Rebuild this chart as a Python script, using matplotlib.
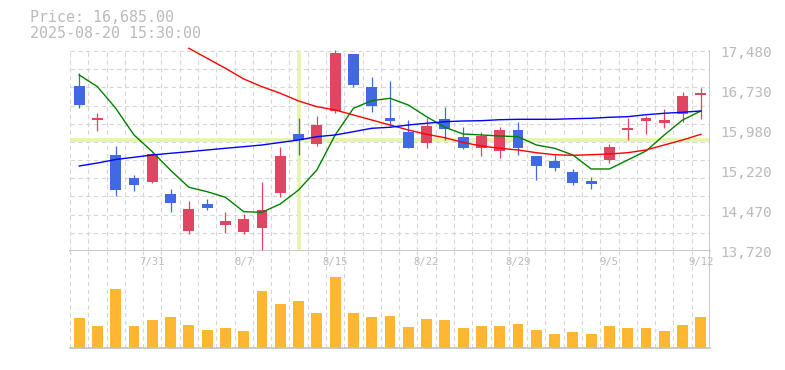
import numpy as np
import matplotlib.pyplot as plt
from matplotlib.transforms import ScaledTranslation

# --- Data ---
dates = ['7/25', '7/28', '7/29', '7/30', '7/31', '8/1', '8/4', '8/5', '8/6', '8/7',
         '8/8', '8/12', '8/13', '8/14', '8/15', '8/18', '8/19', '8/20', '8/21', '8/22',
         '8/25', '8/26', '8/27', '8/28', '8/29', '9/1', '9/2', '9/3', '9/4', '9/5',
         '9/8', '9/9', '9/10', '9/11', '9/12']
label_dates = ['7/31', '8/7', '8/15', '8/22', '8/29', '9/5', '9/12']

opens = [16820, 16185, 15525, 15100, 15025, 14790, 14100, 14605, 14215, 14085,
         14160, 14815, 15920, 15735, 16360, 17425, 16805, 16220, 15955, 15755,
         16200, 15865, 15660, 15605, 15995, 15505, 15410, 15205, 15035, 15435,
         16000, 16170, 16130, 16300, 16655]
highs = [17060, 16315, 15695, 15150, 15555, 14885, 14660, 14700, 14455, 14420,
         15015, 15680, 16220, 16260, 17500, 17430, 16990, 16915, 16185, 16220,
         16425, 16050, 15955, 16050, 16145, 15505, 15525, 15265, 15115, 15735,
         16225, 16265, 16390, 16715, 16790]
lows = [16415, 15980, 14760, 14855, 15005, 14460, 14045, 14495, 14065, 14045,
        13725, 14740, 15525, 15695, 16320, 16810, 16340, 16075, 15660, 15660,
        15810, 15645, 15510, 15475, 15530, 15060, 15230, 14965, 14890, 15380,
        15810, 15925, 16030, 16150, 16205]
closes = [16470, 16220, 14870, 14965, 15545, 14630, 14510, 14535, 14285, 14320,
          14490, 15505, 15805, 16090, 17450, 16845, 16450, 16170, 15660, 16070,
          16020, 15660, 15880, 15995, 15660, 15325, 15285, 15005, 14985, 15675,
          16030, 16220, 16185, 16635, 16685]

# volume, thousand shares
volumes = [303, 223, 593, 223, 283, 313, 233, 183, 203, 173,
           573, 443, 473, 353, 713, 353, 313, 323, 213, 293,
           283, 203, 223, 223, 243, 183, 143, 163, 143, 223,
           203, 203, 173, 233, 313]

ma5 = [17029, 16809, 16403, 15901, 15587, 15237, 14918, 14835, 14730, 14459,
       14448, 14604, 14867, 15243, 15901, 16403, 16546, 16591, 16465, 16245,
       16046, 15920, 15901, 15882, 15869, 15713, 15651, 15525, 15262, 15262,
       15431, 15600, 15901, 16183, 16352]
ma25 = [np.nan] * 6 + [17531, 17343, 17155, 16954, 16809, 16685, 16540, 16433, 16371,
        16277, 16183, 16089, 15995, 15914, 15850, 15760, 15694, 15651, 15619,
        15568, 15530, 15519, 15530, 15544, 15568, 15619, 15713, 15807, 15914]
ma75 = [15318, 15374, 15440, 15482, 15525, 15557, 15587, 15619, 15651, 15681,
        15713, 15760, 15807, 15869, 15901, 15963, 16027, 16046, 16089, 16121,
        16151, 16164, 16170, 16188, 16196, 16196, 16196, 16207, 16215, 16234,
        16245, 16282, 16309, 16328, 16352]

price_ticks = [13720, 14472, 15224, 15976, 16728, 17480]
price_labels = ['13,720', '14,470', '15,220', '15,980', '16,730', '17,480']
cross_idx = 12

# --- Style ---
up_col = '#e04562'
down_col = '#4169e1'
vol_col = '#ffb733'
grid_col = '#d6d6d6'
axis_col = '#c0c0c0'
text_col = '#bababa'
hl_col = '#e4f5a8'
mono = 'DejaVu Sans Mono'

n = len(dates)
x = np.arange(n)
o = np.array(opens, float)
c = np.array(closes, float)
colors = [up_col if cc >= oo else down_col for oo, cc in zip(o, c)]

fig = plt.figure(figsize=(7.85, 3.7), dpi=100)
ax = fig.add_axes([70 / 785, 119 / 370, 640 / 785, 204 / 370])
vax = fig.add_axes([70 / 785, 21.7 / 370, 640 / 785, 97.3 / 370])

ymin, ymax = price_ticks[0], 17555
ax.set_xlim(-0.5, n - 0.5)
ax.set_ylim(ymin, ymax)
vax.set_xlim(-0.5, n - 0.5)
vax.set_ylim(0, 973)

# grid
dash = (0, (4, 3))
for k in range(1, 12):
    ax.axhline(price_ticks[0] + k * (price_ticks[-1] - price_ticks[0]) / 11,
               color=grid_col, lw=0.8, ls=dash, zorder=0)
top_frac = (price_ticks[-1] - ymin) / (ymax - ymin)
for i in range(n):
    ax.axvline(i - 0.5, ymax=top_frac, color=grid_col, lw=0.8, ls=dash, zorder=0)
    vax.axvline(i - 0.5, color=grid_col, lw=0.8, ls=dash, zorder=0)
ax.axvline(n - 0.5, ymax=top_frac, color=axis_col, lw=1.2, zorder=5)
vax.axvline(n - 0.5, color=axis_col, lw=1.2, zorder=5)

# crosshair
ax.axhline(closes[cross_idx], color=hl_col, lw=2.6, zorder=1)
ax.axvline(cross_idx, ymin=0.015, ymax=0.977, color=hl_col, lw=2.6, zorder=1)

# candles
ax.vlines(x, lows, highs, colors=colors, lw=0.9, zorder=2)
ax.bar(x, np.abs(c - o), bottom=np.minimum(o, c), width=0.6, color=colors, zorder=2)

# moving averages
ax.plot(x, ma5, color='#008000', lw=1.0, zorder=3)
ax.plot(x, ma25, color='#ff0000', lw=1.0, zorder=3)
ax.plot(x, ma75, color='#0000ff', lw=1.0, zorder=3)

# volume
vax.bar(x, volumes, width=0.6, color=vol_col, zorder=2)

for a in (ax, vax):
    for s in ('left', 'top', 'right'):
        a.spines[s].set_visible(False)
    a.spines['bottom'].set_color(axis_col)
    a.spines['bottom'].set_linewidth(1.2)
    a.set_xticks([])
    a.set_yticks([])

# right price labels (sit ~2px below their level)
lab_tr = ax.get_yaxis_transform() + ScaledTranslation(0, -2 / 100, fig.dpi_scale_trans)
for p, lab in zip(price_ticks, price_labels):
    ax.text(1.0 + 10.5 / 640, p, lab, transform=lab_tr,
            ha='left', va='center', fontsize=10.4, family=mono, color=text_col)

# date labels inside volume panel
for d in label_dates:
    i = dates.index(d)
    vax.text(i, 1 - 11 / 97.3, d, transform=vax.get_xaxis_transform(),
             ha='center', va='center', fontsize=7.6, family=mono, color=text_col)

# header
fig.text(30 / 785, 1 - 18 / 370, 'Price: 16,685.00', ha='left', va='center',
         fontsize=10.8, family=mono, color=text_col)
fig.text(30 / 785, 1 - 33.5 / 370, '2025-08-20 15:30:00', ha='left', va='center',
         fontsize=10.8, family=mono, color=text_col)

fig.savefig('out.png', dpi=100)
